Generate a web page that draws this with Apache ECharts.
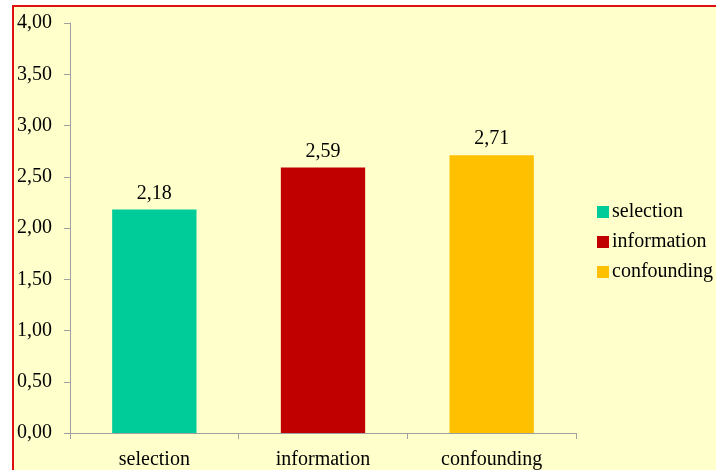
<!DOCTYPE html>
<html>
<head>
<meta charset="utf-8">
<script src="https://cdn.jsdelivr.net/npm/echarts@6/dist/echarts.min.js"></script>
<style>
  html, body { margin: 0; padding: 0; background: #ffffff; }
  #frame {
    position: absolute; left: 12px; top: 5px; width: 704px; height: 465px;
    background: #FFFFCC; border-top: 2px solid #E01010; border-left: 2px solid #E01010;
    box-sizing: border-box;
  }
  #chart { position: absolute; left: 0; top: 0; width: 716px; height: 470px; }
</style>
</head>
<body>
<div id="frame"></div>
<div id="chart"></div>
<script>
// Bias categories and their mean scores
const categories = ['selection', 'information', 'confounding'];
const scores = [2.18, 2.59, 2.71];
const colors = ['#00CC99', '#C00000', '#FFC000'];
const yTicks = { min: 0, max: 4, interval: 0.5 };

const fmt = v => Number(v).toFixed(2).replace('.', ',');
const font = '"Liberation Serif", "Times New Roman", serif';

// One series per category so each gets its own legend entry
const series = categories.map((name, i) => ({
  name: name,
  type: 'bar',
  stack: 'bias',
  barWidth: '50%',
  data: categories.map((_, j) => (j === i ? scores[i] : '-')),
  itemStyle: { color: colors[i] },
  label: {
    show: true,
    position: 'top',
    distance: 6,
    formatter: p => fmt(p.value),
    fontFamily: font,
    fontSize: 20,
    color: '#000'
  }
}));

const chart = echarts.init(document.getElementById('chart'), null, { renderer: 'canvas' });
chart.setOption({
  backgroundColor: 'transparent',
  animation: false,
  grid: { left: 70, top: 23, right: 140, bottom: 37 },
  legend: {
    orient: 'vertical',
    left: 592,
    top: 197,
    itemWidth: 12,
    itemHeight: 12,
    itemGap: 10,
    icon: 'rect',
    data: categories,
    textStyle: { fontFamily: font, fontSize: 20, color: '#000', padding: [0, 0, 0, -2] }
  },
  xAxis: {
    type: 'category',
    data: categories,
    axisLine: { lineStyle: { color: '#A0A0A0' } },
    axisTick: { show: true, length: 6, alignWithLabel: false, lineStyle: { color: '#A0A0A0' } },
    axisLabel: { fontFamily: font, fontSize: 20, color: '#000', margin: 17 }
  },
  yAxis: {
    type: 'value',
    min: yTicks.min,
    max: yTicks.max,
    interval: yTicks.interval,
    splitLine: { show: false },
    axisLine: { show: true, lineStyle: { color: '#A0A0A0' } },
    axisTick: { show: true, length: 6, lineStyle: { color: '#A0A0A0' } },
    axisLabel: { fontFamily: font, fontSize: 20, color: '#000', margin: 18, formatter: fmt }
  },
  series: series
});
</script>
</body>
</html>
